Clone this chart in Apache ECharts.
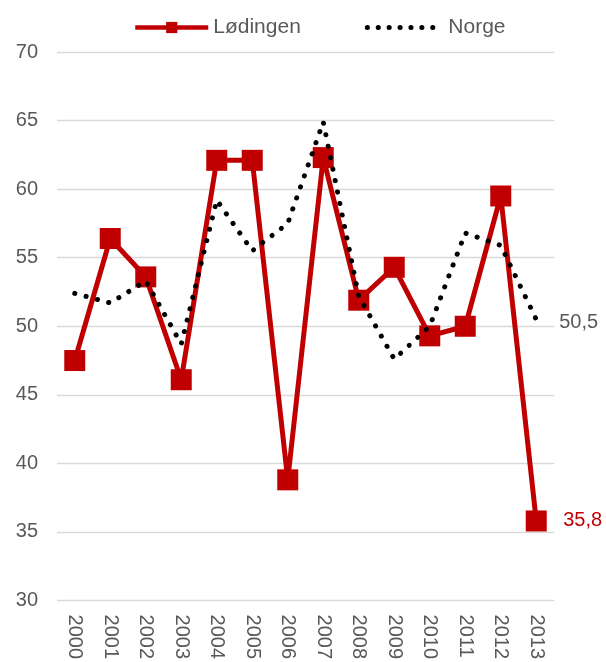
<!DOCTYPE html>
<html>
<head>
<meta charset="utf-8">
<script src="https://cdn.jsdelivr.net/npm/echarts@6/dist/echarts.min.js"></script>
<style>
  html, body { margin: 0; padding: 0; background: #fff; }
  #chart { width: 606px; height: 662px; }
</style>
</head>
<body>
<div id="chart"></div>
<script>
// Years on the category axis
const years = ['2000', '2001', '2002', '2003', '2004', '2005', '2006',
               '2007', '2008', '2009', '2010', '2011', '2012', '2013'];

// Lødingen series
const lodingen = [47.5, 56.4, 53.6, 46.1, 62.1, 62.1, 38.8,
                  62.3, 51.9, 54.3, 49.3, 50.0, 59.5, 35.8];

// Norge (national) series
const norge = [52.4, 51.7, 53.3, 48.7, 59.2, 55.5, 57.5,
               64.9, 52.2, 47.6, 50.0, 56.8, 55.9, 50.5];

// Value axis ticks
const yMin = 30, yMax = 70, yStep = 5;

const grey = '#595959';
const red = '#C00000';
const font = 'Liberation Sans, Arial, sans-serif';
const comma = v => String(v.toFixed(1)).replace('.', ',');
const dotted = [0.1, 11.6];

const chart = echarts.init(document.getElementById('chart'));
chart.setOption({
  animation: false,
  backgroundColor: '#fff',
  textStyle: { fontFamily: font },
  legend: {
    top: 17,
    left: 133,
    padding: 0,
    itemWidth: 73,
    itemHeight: 14,
    itemGap: 64,
    textStyle: { color: grey, fontSize: 21, fontFamily: font },
    data: [
      { name: 'Lødingen', lineStyle: { width: 4.5 } },
      {
        name: 'Norge',
        itemStyle: { opacity: 0 },
        lineStyle: { width: 5, type: [0.1, 10.8], cap: 'round' },
        textStyle: { padding: [0, 0, 0, 3] }
      }
    ]
  },
  grid: { left: 57, right: 52, top: 52, bottom: 60, containLabel: false },
  xAxis: {
    type: 'category',
    data: years,
    boundaryGap: true,
    axisLine: { show: false },
    axisTick: { show: false },
    axisLabel: {
      rotate: -90,
      color: grey,
      fontSize: 20,
      fontFamily: font,
      margin: 14,
      interval: 0
    }
  },
  yAxis: {
    type: 'value',
    min: yMin,
    max: yMax,
    interval: yStep,
    axisLine: { show: false },
    axisTick: { show: false },
    axisLabel: { color: grey, fontSize: 20, fontFamily: font, margin: 19 },
    splitLine: { lineStyle: { color: '#d9d9d9', width: 1.3 } }
  },
  series: [
    {
      name: 'Lødingen',
      type: 'line',
      data: lodingen,
      symbol: 'rect',
      symbolSize: 21,
      itemStyle: { color: red },
      lineStyle: { color: red, width: 5 },
      z: 2,
      endLabel: {
        show: true,
        color: red,
        fontSize: 20,
        fontFamily: font,
        distance: 27,
        formatter: p => comma(p.value)
      }
    },
    {
      name: 'Norge',
      type: 'line',
      data: norge,
      symbol: 'none',
      itemStyle: { color: '#000' },
      lineStyle: { color: '#000', width: 5, type: dotted, cap: 'round' },
      z: 3,
      endLabel: {
        show: true,
        color: grey,
        fontSize: 20,
        fontFamily: font,
        distance: 23,
        offset: [0, 3],
        formatter: p => comma(p.value)
      }
    }
  ]
});
</script>
</body>
</html>
